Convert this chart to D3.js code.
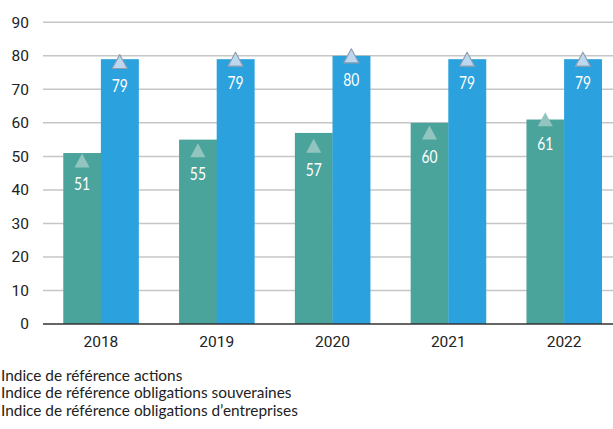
<!DOCTYPE html>
<html>
<head>
<meta charset="utf-8">
<script src="https://cdn.jsdelivr.net/npm/d3@7/dist/d3.min.js"></script>
<style>
  html, body { margin: 0; padding: 0; background: #ffffff; }
  svg { display: block; }
</style>
</head>
<body>
<svg id="chart" width="613" height="429"></svg>
<script>
// Years on the x axis
const years = ["2018", "2019", "2020", "2021", "2022"];
// Portfolio scores (bars)
const actionsScores = [51, 55, 57, 60, 61];
const obligationsScores = [79, 79, 80, 79, 79];
// Benchmark index values (triangle markers)
const actionsBenchmark = [48.8, 51.8, 53.2, 57.1, 61.1];
const obligationsBenchmark = [78.3, 79.0, 80.0, 79.0, 79.0];
// Y axis ticks
const yTicks = [0, 10, 20, 30, 40, 50, 60, 70, 80, 90];
// Legend entries
const legendLabels = [
  "Indice de référence actions",
  "Indice de référence obligations souveraines",
  "Indice de référence obligations d\u2019entreprises"
];

const colors = {
  teal: "#4ba49c",
  blue: "#2ba1dd",
  tealTri: "#92c5bf",
  blueTri: "#bdd7ee",
  blueTriStroke: "#8d9fb3",
  grid: "#c6c6c6",
  base: "#333333",
  text: "#222222"
};

const labelFont = "Lato, 'Open Sans', sans-serif";

const svg = d3.select("#chart");

const x = d3.scaleBand().domain(years).range([43, 622]).paddingInner(0.35).paddingOuter(0.175);
const series = ["actions", "obligations"];
const xs = d3.scaleBand().domain(series).range([0, x.bandwidth()]);
const y = d3.scaleLinear().domain([0, 90]).range([324, 22.3]);

// Grid lines
svg.append("g")
  .selectAll("line")
  .data(yTicks.filter(t => t > 0))
  .join("line")
  .attr("x1", 43).attr("x2", 613)
  .attr("y1", d => y(d)).attr("y2", d => y(d))
  .attr("stroke", colors.grid)
  .attr("stroke-width", 1.5);

// Y axis labels
const yAxis = d3.axisLeft(y).tickValues(yTicks).tickSize(0).tickPadding(14).tickFormat(d3.format("d"));
const yg = svg.append("g").attr("transform", "translate(43,0)").call(yAxis);
yg.select(".domain").remove();
yg.selectAll("text")
  .attr("font-family", "Roboto, Arial, sans-serif")
  .attr("font-size", 15.5)
  .attr("fill", colors.text);

const rows = years.map((yr, i) => ({
  year: yr,
  vals: [
    { key: "actions", v: actionsScores[i], b: actionsBenchmark[i], fill: colors.teal, tri: colors.tealTri, stroke: "none" },
    { key: "obligations", v: obligationsScores[i], b: obligationsBenchmark[i], fill: colors.blue, tri: colors.blueTri, stroke: colors.blueTriStroke }
  ]
}));

const groups = svg.append("g")
  .selectAll("g")
  .data(rows)
  .join("g")
  .attr("transform", d => `translate(${x(d.year)},0)`);

const cells = groups.selectAll("g.cell")
  .data(d => d.vals)
  .join("g")
  .attr("class", "cell");

cells.append("rect")
  .attr("x", d => xs(d.key))
  .attr("y", d => y(d.v))
  .attr("width", xs.bandwidth() + 0.3)
  .attr("height", d => y(0) - y(d.v))
  .attr("fill", d => d.fill);

// Benchmark triangles centred on the benchmark value
const triW = 15, triH = 14;
cells.append("path")
  .attr("d", d => {
    const cx = xs(d.key) + xs.bandwidth() / 2;
    const cy = y(d.b);
    return `M${cx},${cy - triH / 2}L${cx + triW / 2},${cy + triH / 2}L${cx - triW / 2},${cy + triH / 2}Z`;
  })
  .attr("fill", d => d.tri)
  .attr("stroke", d => d.stroke)
  .attr("stroke-width", 1.2)
  .attr("stroke-linejoin", "round");

// Value labels inside the bars (slightly condensed)
cells.append("text")
  .attr("transform", d => `translate(${xs(d.key) + xs.bandwidth() / 2},${y(Math.min(d.v, d.b)) + 30}) scale(0.84,1)`)
  .attr("text-anchor", "middle")
  .attr("font-family", labelFont)
  .attr("font-size", 16.5)
  .attr("fill", "#ffffff")
  .text(d => d.v);

// Baseline
svg.append("line")
  .attr("x1", 43).attr("x2", 613)
  .attr("y1", y(0)).attr("y2", y(0))
  .attr("stroke", colors.base)
  .attr("stroke-width", 1.5);

// X axis labels
const xAxis = d3.axisBottom(x).tickSize(0).tickPadding(12);
const xg = svg.append("g").attr("transform", `translate(0,${y(0)})`).call(xAxis);
xg.select(".domain").remove();
xg.selectAll("text")
  .attr("font-family", "Roboto, Arial, sans-serif")
  .attr("font-size", 15.5)
  .attr("fill", colors.text);

// Legend
const legendColors = [colors.tealTri, colors.blueTri, "#7f7f7f"];
const legend = svg.append("g")
  .selectAll("g")
  .data(legendLabels)
  .join("g")
  .attr("transform", (d, i) => `translate(0,${380.7 + i * 17.5})`);

legend.append("path")
  .attr("d", "M-14,-12L-7,-1L-21,-1Z")
  .attr("fill", (d, i) => legendColors[i]);

const legendText = legend.append("text")
  .attr("x", 0)
  .attr("y", 0)
  .attr("font-family", labelFont)
  .attr("font-size", 15.5)
  .attr("fill", colors.text)
  .text(d => d);

// Fit the longest entry to its column width while keeping proportions
const longest = d3.max(legendText.nodes(), n => n.getComputedTextLength());
const k = 297 / longest;
legendText.attr("transform", `translate(1,0) scale(${k},1)`);
</script>
</body>
</html>
